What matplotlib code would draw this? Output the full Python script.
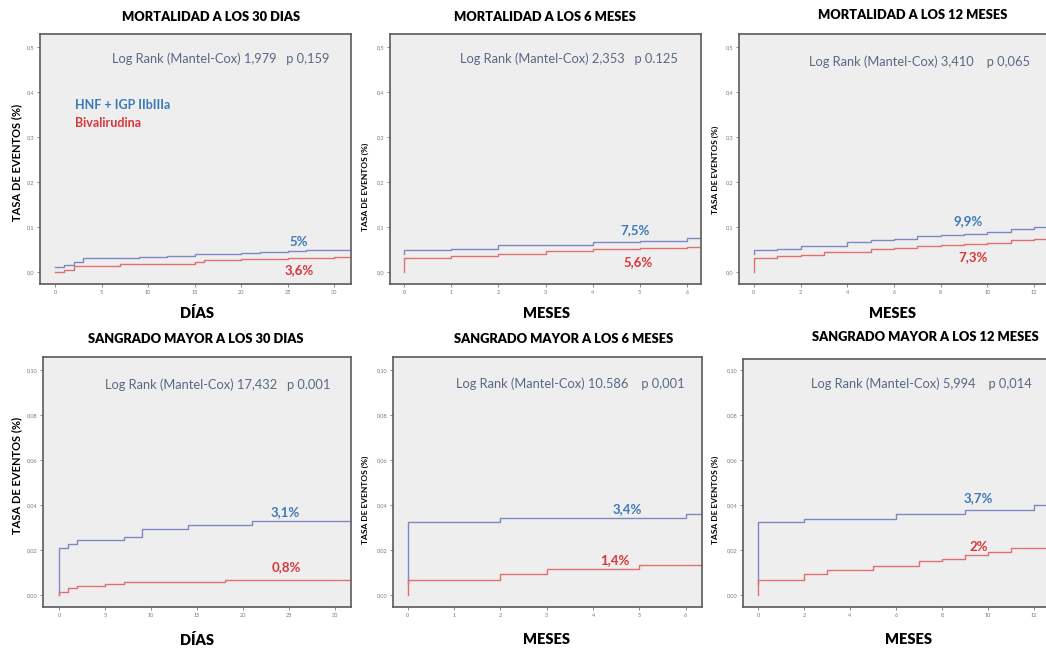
"""Curvas Kaplan-Meier: mortalidad y sangrado mayor (HNF + IGP IIbIIIa vs Bivalirudina)
"""
import matplotlib as mpl
import matplotlib.pyplot as plt
import numpy as np

mpl.rcParams['font.family'] = ['Lato', 'DejaVu Sans']

W, H = 1046, 652

# ---- data (time, cumulative event rate) ----
mort30_t_blue = [0, 1, 2, 3, 9, 12, 15, 17, 20, 22, 25, 27, 33]
mort30_y_blue = [0.012, 0.015, 0.023, 0.032, 0.034, 0.036, 0.039, 0.041, 0.043, 0.045, 0.047, 0.049, 0.049]
mort30_t_red = [0, 1, 2, 7, 15, 16, 20, 25, 30, 33]
mort30_y_red = [0.001, 0.005, 0.014, 0.017, 0.022, 0.026, 0.029, 0.031, 0.033, 0.033]

mort6_t_blue = [0, 0, 1, 2, 4, 5, 6, 7]
mort6_y_blue = [0.040, 0.048, 0.051, 0.059, 0.066, 0.069, 0.075, 0.075]
mort6_t_red = [0, 0, 1, 2, 3, 4, 5, 6, 7]
mort6_y_red = [0.0, 0.031, 0.035, 0.040, 0.046, 0.050, 0.053, 0.056, 0.056]

mort12_t_blue = [0, 0, 1, 2, 4, 5, 6, 7, 8, 9, 10, 11, 12, 14]
mort12_y_blue = [0.040, 0.048, 0.050, 0.058, 0.066, 0.070, 0.074, 0.079, 0.082, 0.084, 0.088, 0.096, 0.101, 0.101]
mort12_t_red = [0, 0, 1, 2, 3, 5, 6, 7, 8, 9, 10, 11, 12, 14]
mort12_y_red = [0.0, 0.031, 0.035, 0.038, 0.045, 0.050, 0.054, 0.057, 0.060, 0.062, 0.064, 0.070, 0.074, 0.074]

sang30_t_blue = [0, 0, 1, 2, 7, 9, 14, 21, 33]
sang30_y_blue = [0.0, 0.021, 0.0228, 0.0243, 0.026, 0.0293, 0.031, 0.0328, 0.0328]
sang30_t_red = [0, 0, 1, 2, 5, 7, 18, 33]
sang30_y_red = [0.0, 0.0015, 0.0033, 0.0042, 0.005, 0.0058, 0.0068, 0.0068]

sang6_t_blue = [0, 0, 2, 6, 7]
sang6_y_blue = [0.005, 0.0325, 0.0343, 0.036, 0.036]
sang6_t_red = [0, 0, 2, 3, 5, 7]
sang6_y_red = [0.0, 0.0067, 0.0093, 0.0115, 0.0133, 0.0133]

sang12_t_blue = [0, 0, 2, 6, 9, 12, 14]
sang12_y_blue = [0.005, 0.0325, 0.034, 0.036, 0.038, 0.040, 0.040]
sang12_t_red = [0, 0, 2, 3, 5, 7, 8, 9, 10, 11, 14]
sang12_y_red = [0.0, 0.0067, 0.0093, 0.0112, 0.013, 0.015, 0.016, 0.018, 0.019, 0.021, 0.021]

titles = ['MORTALIDAD A LOS 30 DIAS', 'MORTALIDAD A LOS 6 MESES', 'MORTALIDAD A LOS 12 MESES',
          'SANGRADO MAYOR A LOS 30 DIAS', 'SANGRADO MAYOR A LOS 6 MESES', 'SANGRADO MAYOR A LOS 12 MESES']
xlabels = ['DÍAS', 'MESES', 'MESES', 'DÍAS', 'MESES', 'MESES']
logrank = ['Log Rank (Mantel-Cox) 1,979   p 0,159', 'Log Rank (Mantel-Cox) 2,353   p 0.125',
           'Log Rank (Mantel-Cox) 3,410    p 0,065', 'Log Rank (Mantel-Cox) 17,432   p 0.001',
           'Log Rank (Mantel-Cox) 10.586    p 0,001', 'Log Rank (Mantel-Cox) 5,994    p 0,014']
pct_blue = ['5%', '7,5%', '9,9%', '3,1%', '3,4%', '3,7%']
pct_red = ['3,6%', '5,6%', '7,3%', '0,8%', '1,4%', '2%']

BLUE_LINE = '#8088c4'
RED_LINE = '#e07070'
BLUE_TXT = '#3d7ab8'
RED_TXT = '#d9363a'
LR_COL = '#5a6886'


def px(x, y):
    return x / W, 1 - y / H


def rect(l, t, r, b):
    return [l / W, 1 - b / H, (r - l) / W, (b - t) / H]


fig = plt.figure(figsize=(W / 100, H / 100), dpi=100)

panels = [
    # axes rect (px), xlim, ylim, xticks, yticks, ytick labels
    dict(r=(40, 34, 351, 284), xlim=(-1.61, 31.8), ylim=(-0.0267, 0.529), xt=np.arange(0, 31, 5),
         yt=[0, 0.1, 0.2, 0.3, 0.4, 0.5], yl=['0,0', '0,1', '0,2', '0,3', '0,4', '0,5'],
         blue=(mort30_t_blue, mort30_y_blue), red=(mort30_t_red, mort30_y_red),
         lr=(17.8, 0.473), pb=(26.2, 0.067), pr=(26.2, 0.005)),
    dict(r=(390, 34, 701, 284), xlim=(-0.3, 6.3), ylim=(-0.0267, 0.529), xt=np.arange(0, 7, 1),
         yt=[0, 0.1, 0.2, 0.3, 0.4, 0.5], yl=['0,0', '0,1', '0,2', '0,3', '0,4', '0,5'],
         blue=(mort6_t_blue, mort6_y_blue), red=(mort6_t_red, mort6_y_red),
         lr=(3.5, 0.473), pb=(4.9, 0.093), pr=(4.96, 0.022)),
    dict(r=(739, 34, 1050, 284), xlim=(-0.64, 12.69), ylim=(-0.0267, 0.529), xt=np.arange(0, 13, 2),
         yt=[0, 0.1, 0.2, 0.3, 0.4, 0.5], yl=['0,0', '0,1', '0,2', '0,3', '0,4', '0,5'],
         blue=(mort12_t_blue, mort12_y_blue), red=(mort12_t_red, mort12_y_red),
         lr=(7.1, 0.467), pb=(9.2, 0.113), pr=(9.4, 0.033)),
    dict(r=(43, 357, 351, 607), xlim=(-1.74, 31.7), ylim=(-0.0053, 0.1058), xt=np.arange(0, 31, 5),
         yt=[0, 0.02, 0.04, 0.06, 0.08, 0.10], yl=['0,00', '0,02', '0,04', '0,06', '0,08', '0,10'],
         blue=(sang30_t_blue, sang30_y_blue), red=(sang30_t_red, sang30_y_red),
         lr=(17.2, 0.0933), pb=(24.6, 0.037), pr=(24.7, 0.0126)),
    dict(r=(393, 357, 702, 607), xlim=(-0.32, 6.35), ylim=(-0.0053, 0.1058), xt=np.arange(0, 7, 1),
         yt=[0, 0.02, 0.04, 0.06, 0.08, 0.10], yl=['0,00', '0,02', '0,04', '0,06', '0,08', '0,10'],
         blue=(sang6_t_blue, sang6_y_blue), red=(sang6_t_red, sang6_y_red),
         lr=(3.5, 0.094), pb=(4.73, 0.038), pr=(4.47, 0.0157)),
    dict(r=(743, 359, 1050, 607), xlim=(-0.65, 12.7), ylim=(-0.0053, 0.1050), xt=np.arange(0, 13, 2),
         yt=[0, 0.02, 0.04, 0.06, 0.08, 0.10], yl=['0,00', '0,02', '0,04', '0,06', '0,08', '0,10'],
         blue=(sang12_t_blue, sang12_y_blue), red=(sang12_t_red, sang12_y_red),
         lr=(7.1, 0.094), pb=(9.6, 0.043), pr=(9.6, 0.0215)),
]

for i, p in enumerate(panels):
    ax = fig.add_axes(rect(*p['r']))
    ax.set_facecolor('#eeeeee')
    for s in ax.spines.values():
        s.set_color('#5a5a5a')
        s.set_linewidth(1.2)
    ax.step(p['blue'][0], p['blue'][1], where='post', color=BLUE_LINE, lw=1.0)
    ax.step(p['red'][0], p['red'][1], where='post', color=RED_LINE, lw=1.0)
    ax.set_xlim(*p['xlim'])
    ax.set_ylim(*p['ylim'])
    ax.set_xticks(p['xt'])
    ax.set_yticks(p['yt'])
    ax.set_yticklabels(p['yl'])
    ax.tick_params(labelsize=4, colors='#777777', length=2, width=0.6, pad=2)
    ax.text(p['lr'][0], p['lr'][1], logrank[i], color=LR_COL, fontsize=9.3, ha='center', va='center')
    ax.text(p['pb'][0], p['pb'][1], pct_blue[i], color=BLUE_TXT, fontsize=9.5, fontweight='bold',
            ha='center', va='center')
    ax.text(p['pr'][0], p['pr'][1], pct_red[i], color=RED_TXT, fontsize=9.5, fontweight='bold',
            ha='center', va='center')
    if i == 0:
        ax.text(2.2, 0.371, 'HNF + IGP IIbIIIa', color=BLUE_TXT, fontsize=9, fontweight='bold',
                ha='left', va='center')
        ax.text(2.2, 0.331, 'Bivalirudina', color=RED_TXT, fontsize=9, fontweight='bold',
                ha='left', va='center')

# titles, axis labels (pixel positions)
title_pos = [(211, 17), (545, 17), (913, 15), (196, 339), (564, 339), (925, 337)]
xlab_pos = [(197, 313), (547, 313), (893, 313), (197, 640), (547, 640), (908, 640)]
ylab_pos = [(17, 162, 8), (365, 187, 6), (715, 170, 6), (17, 475, 8), (365, 500, 6), (715, 500, 6)]

for i in range(6):
    fig.text(*px(*title_pos[i]), titles[i], fontsize=9.3, fontweight='heavy', ha='center', va='center')
    fig.text(*px(*xlab_pos[i]), xlabels[i], fontsize=10.5, fontweight='heavy', ha='center', va='center')
    x, y, fs = ylab_pos[i]
    fig.text(*px(x, y), 'TASA DE EVENTOS (%)', fontsize=fs, fontweight='bold', rotation=90,
             ha='center', va='center')

plt.savefig('out.png', dpi=100)
plt.close()
